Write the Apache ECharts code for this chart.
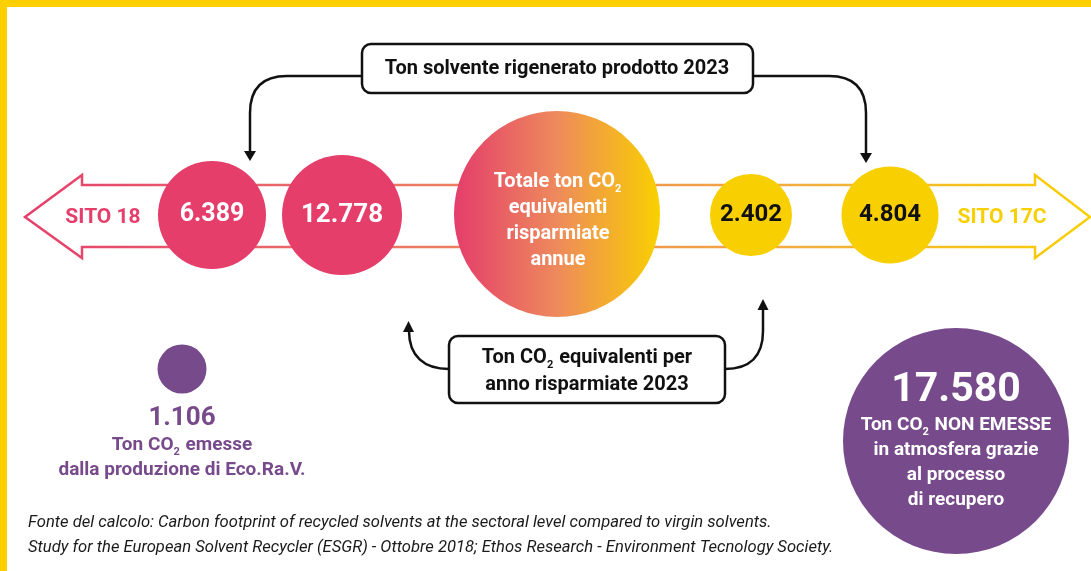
<!DOCTYPE html>
<html><head><meta charset="utf-8">
<script src="https://cdn.jsdelivr.net/npm/echarts@6/dist/echarts.min.js"></script>
<style>html,body{margin:0;padding:0;background:#fff}#c{width:1091px;height:571px}</style>
</head><body><div id="c"></div>
<script>
// ---- data ----
const siteLabels = ['SITO 18', 'SITO 17C'];
const solventTon = [6389, 4804];        // Ton solvente rigenerato prodotto 2023 (SITO 18, SITO 17C)
const co2SavedTon = [12778, 2402];      // Ton CO2 equivalenti per anno risparmiate 2023 (SITO 18, SITO 17C)
const co2EmittedTon = [1106];           // Ton CO2 emesse dalla produzione di Eco.Ra.V.
const co2NotEmittedTon = [17580];       // Ton CO2 NON EMESSE
const boxTopText = 'Ton solvente rigenerato prodotto 2023';
const footnoteLines = [
  'Fonte del calcolo: Carbon footprint of recycled solvents at the sectoral level compared to virgin solvents.',
  'Study for the European Solvent Recycler (ESGR) - Ottobre 2018; Ethos Research - Environment Tecnology Society.'
];

// ---- styles / layout ----
const FONT = 'Roboto, "Open Sans", sans-serif';
const PINK = '#e63e6a', YELLOW = '#f8cf00', PURPLE = '#774a8b';
const fmt = n => String(n).replace(/\B(?=(\d{3})+(?!\d))/g, '.');

const chart = echarts.init(document.getElementById('c'), null, {renderer: 'canvas'});

const sub = (color) => ({fontFamily: FONT, fontWeight: 'bold', fontSize: 11, color, fill: color, verticalAlign: 'bottom', lineHeight: 13, padding: [0, 1, 0, 0]});
const txt = (color, fs, lh) => ({fontFamily: FONT, fontWeight: 'bold', fontSize: fs, color, fill: color, lineHeight: lh});
const lbl = (text, color, fs) => ({show: true, position: 'inside', formatter: text, color, fontFamily: FONT, fontWeight: 'bold', fontSize: fs});

const gradCircle = new echarts.graphic.LinearGradient(0, 0, 1, 0, [
  {offset: 0, color: '#e43d6b'}, {offset: 0.5, color: '#ee8a5c'}, {offset: 1, color: '#f9d000'}
]);

const circles = [
  {value: [212, 215], symbolSize: 108, itemStyle: {color: PINK}, label: lbl(fmt(solventTon[0]), '#fff', 25)},
  {value: [342, 215], symbolSize: 120, itemStyle: {color: PINK}, label: lbl(fmt(co2SavedTon[0]), '#fff', 26)},
  {value: [557, 214], symbolSize: 206, itemStyle: {color: gradCircle}, label: {
    show: true, position: 'inside', offset: [1, 7],
    formatter: '{t|Totale ton CO}{s|2}\n{t|equivalenti}\n{t|risparmiate}\n{t|annue}',
    rich: {t: txt('#fff', 20, 26), s: sub('#fff')}
  }},
  {value: [751, 215], symbolSize: 82, itemStyle: {color: YELLOW}, label: lbl(fmt(co2SavedTon[1]), '#111', 24)},
  {value: [890, 215], symbolSize: 97, itemStyle: {color: YELLOW}, label: lbl(fmt(solventTon[1]), '#111', 24)},
  {value: [182, 369], symbolSize: 49, itemStyle: {color: PURPLE}, label: {show: false}},
  {value: [956, 441], symbolSize: 226, itemStyle: {color: PURPLE}, label: {
    show: true, position: 'inside', offset: [0, 0],
    formatter: '{big|' + fmt(co2NotEmittedTon[0]) + '}\n{t|Ton CO}{s|2}{t| NON EMESSE}\n{t|in atmosfera grazie}\n{t|al processo}\n{t|di recupero}',
    rich: {big: txt('#fff', 41, 44), t: txt('#fff', 19, 25), s: sub('#fff')}
  }}
];

const arrowGrad = new echarts.graphic.LinearGradient(0, 0, 1, 0, [
  {offset: 0, color: PINK}, {offset: 0.2, color: '#e8606c'}, {offset: 0.5, color: '#ef8c5a'}, {offset: 0.75, color: '#f3b13a'}, {offset: 1, color: YELLOW}
]);

const line = {stroke: '#111', lineWidth: 2.5, fill: null};
const seg = (x1, y1, x2, y2) => ({type: 'line', shape: {x1, y1, x2, y2}, style: line, z: 5});
const bez = (x1, y1, cpx1, cpy1, x2, y2, cpx2, cpy2) => {
  const shape = {x1, y1, x2, y2, cpx1, cpy1};
  if (cpx2 !== undefined) { shape.cpx2 = cpx2; shape.cpy2 = cpy2; }
  return {type: 'bezierCurve', shape, style: line, z: 5};
};

const graphic = [
  {type: 'rect', shape: {x: 0, y: 0, width: 1091, height: 7}, style: {fill: '#fcd000'}, z: 10},
  {type: 'rect', shape: {x: 0, y: 0, width: 7, height: 571}, style: {fill: '#fcd000'}, z: 10},
  {type: 'polygon', shape: {points: [[25, 217], [82, 175], [82, 185], [1035, 185], [1035, 175], [1090, 217], [1035, 258], [1035, 247], [82, 247], [82, 258]]},
    style: {fill: '#fff', stroke: arrowGrad, lineWidth: 2.5}, z: 0},
  {type: 'text', style: {x: 103, y: 218, text: siteLabels[0], align: 'center', verticalAlign: 'middle', fill: PINK, font: 'bold 21px ' + FONT}, z: 5},
  {type: 'text', style: {x: 1002, y: 218, text: siteLabels[1], align: 'center', verticalAlign: 'middle', fill: YELLOW, font: 'bold 21px ' + FONT}, z: 5},
  // top box + connectors
  {type: 'rect', shape: {x: 362, y: 44, width: 391, height: 49, r: 9}, style: {fill: '#fff', stroke: '#111', lineWidth: 2.5}, z: 5},
  {type: 'text', style: {x: 557, y: 69, text: boxTopText, align: 'center', verticalAlign: 'middle', fill: '#111', font: 'bold 20px ' + FONT}, z: 6},
  seg(362, 76, 287, 76), bez(287, 76, 250, 76, 250, 113), seg(250, 113, 250, 152),
  {type: 'polygon', shape: {points: [[244, 151], [256, 151], [250, 161]]}, style: {fill: '#111'}, z: 5},
  seg(753, 76, 829, 76), bez(829, 76, 866, 76, 866, 113), seg(866, 113, 866, 154),
  {type: 'polygon', shape: {points: [[860, 153], [872, 153], [866, 163]]}, style: {fill: '#111'}, z: 5},
  // bottom box + connectors
  {type: 'rect', shape: {x: 449, y: 336, width: 276, height: 67, r: 9}, style: {fill: '#fff', stroke: '#111', lineWidth: 2.5}, z: 5},
  {type: 'text', style: {x: 587, y: 371, align: 'center', verticalAlign: 'middle',
    text: '{t|Ton CO}{s|2}{t| equivalenti per}\n{t|anno risparmiate 2023}',
    rich: {t: txt('#111', 20, 27), s: sub('#111')}}, z: 6},
  bez(449, 369, 424, 369, 409, 331, 409, 356),
  {type: 'polygon', shape: {points: [[403, 332], [414, 332], [408.5, 321]]}, style: {fill: '#111'}, z: 5},
  bez(725, 369, 750, 369, 763, 331, 763, 356), seg(763, 331, 763, 310),
  {type: 'polygon', shape: {points: [[757.5, 310], [768.5, 310], [763, 299]]}, style: {fill: '#111'}, z: 5},
  // emitted text
  {type: 'text', style: {x: 182, y: 403, align: 'center', verticalAlign: 'top',
    text: '{n|' + fmt(co2EmittedTon[0]) + '}\n{t|Ton CO}{s|2}{t| emesse}\n{t|dalla produzione di Eco.Ra.V.}',
    rich: {n: txt(PURPLE, 26, 30), t: txt(PURPLE, 19, 25), s: sub(PURPLE)}}, z: 6},
  // footnote
  {type: 'text', style: {x: 28, y: 523, text: footnoteLines[0], align: 'left', verticalAlign: 'middle', fill: '#1a1a1a', font: 'italic 16.6px ' + FONT}, z: 6},
  {type: 'text', style: {x: 28, y: 548, text: footnoteLines[1], align: 'left', verticalAlign: 'middle', fill: '#1a1a1a', font: 'italic 16.6px ' + FONT}, z: 6}
];

chart.setOption({
  animation: false,
  backgroundColor: '#fff',
  grid: {left: 0, right: 0, top: 0, bottom: 0},
  xAxis: {type: 'value', min: 0, max: 1091, show: false},
  yAxis: {type: 'value', min: 0, max: 571, inverse: true, show: false},
  series: [{
    type: 'scatter', symbol: 'circle', silent: true, z: 3,
    itemStyle: {opacity: 1},
    emphasis: {disabled: true},
    data: circles
  }],
  graphic: graphic
});
</script></body></html>
